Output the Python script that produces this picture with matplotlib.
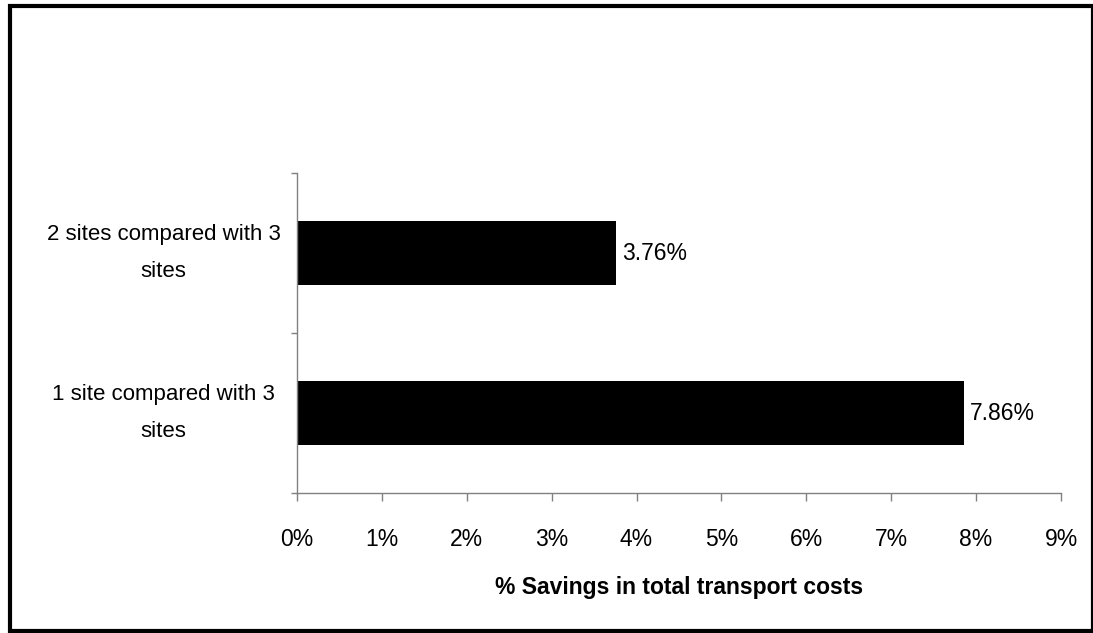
import matplotlib.pyplot as plt
from matplotlib.patches import Rectangle
from matplotlib.ticker import FixedLocator

plt.rcParams['font.family'] = ['Liberation Sans', 'DejaVu Sans']

categories = ['1 site compared with 3\nsites', '2 sites compared with 3\nsites']
savings = [7.86, 3.76]
bar_labels = ['7.86%', '3.76%']
x_ticks = list(range(0, 10))
x_tick_labels = ['{}%'.format(t) for t in x_ticks]

fig = plt.figure(figsize=(10.93, 6.33), dpi=100)
ax = fig.add_axes([297 / 1093, 1 - 493 / 633, (1061 - 297) / 1093, (493 - 173) / 633])

pos = list(range(len(categories)))
ax.barh(pos, savings, height=0.4, color='black')
for p, v, lab in zip(pos, savings, bar_labels):
    ax.text(v + 0.07, p, lab, va='center', ha='left', fontsize=16.5)

ax.set_xlim(0, 9)
ax.set_ylim(-0.5, 1.5)
ax.set_xticks(x_ticks)
ax.set_xticklabels(x_tick_labels, fontsize=16.5)
ax.tick_params(axis='x', direction='out', length=6, width=1, color='#808080', pad=19.5)

# category boundaries get the tick marks, centres get the labels
ax.yaxis.set_major_locator(FixedLocator([-0.5, 0.5, 1.5]))
ax.set_yticklabels(['', '', ''])
ax.yaxis.set_minor_locator(FixedLocator(pos))
ylabels = ax.set_yticklabels(categories, minor=True, fontsize=16, ha='center',
                             multialignment='center', linespacing=1.95)
for t in ylabels:
    t.set_va('center')
ax.tick_params(axis='y', which='minor', length=0, pad=96)
ax.tick_params(axis='y', which='major', direction='out', length=4, width=1, color='#808080')

for side in ['top', 'right']:
    ax.spines[side].set_visible(False)
for side in ['left', 'bottom']:
    ax.spines[side].set_color('#808080')
    ax.spines[side].set_linewidth(1)

ax.set_xlabel('% Savings in total transport costs', fontsize=16.5, fontweight='bold', labelpad=18)

# outer frame around the whole chart
fig.patches.append(Rectangle((9.5 / 1093, 1 - 631 / 633), 1083.5 / 1093, 625 / 633,
                             transform=fig.transFigure, fill=False, edgecolor='black', linewidth=3))

fig.savefig('out.png', dpi=100)
